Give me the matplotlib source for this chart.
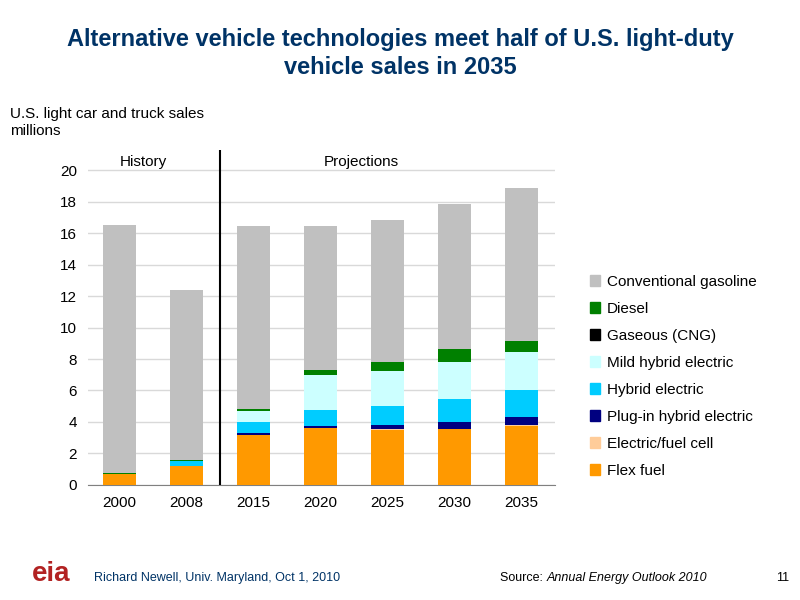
import matplotlib
matplotlib.use("Agg")
import matplotlib.pyplot as plt
from matplotlib.patches import Patch

years = ["2000", "2008", "2015", "2020", "2025", "2030", "2035"]
flex_fuel = [0.68, 1.17, 3.19, 3.62, 3.51, 3.55, 3.77]
electric_fuel_cell = [0.0, 0.0, 0.01, 0.01, 0.01, 0.02, 0.02]
plugin_hybrid = [0.0, 0.04, 0.10, 0.08, 0.26, 0.43, 0.55]
hybrid = [0.0, 0.32, 0.70, 1.02, 1.21, 1.49, 1.68]
mild_hybrid = [0.0, 0.0, 0.68, 2.23, 2.26, 2.34, 2.45]
gaseous = [0.0, 0.0, 0.01, 0.01, 0.01, 0.01, 0.01]
diesel = [0.05, 0.02, 0.15, 0.32, 0.57, 0.79, 0.66]
conventional = [15.77, 10.85, 11.60, 9.15, 9.04, 9.26, 9.76]

series = [
    ("Flex fuel", flex_fuel, "#FF9900"),
    ("Electric/fuel cell", electric_fuel_cell, "#FFCC99"),
    ("Plug-in hybrid electric", plugin_hybrid, "#000080"),
    ("Hybrid electric", hybrid, "#00CCFF"),
    ("Mild hybrid electric", mild_hybrid, "#CCFFFF"),
    ("Gaseous (CNG)", gaseous, "#000000"),
    ("Diesel", diesel, "#008000"),
    ("Conventional gasoline", conventional, "#C0C0C0"),
]

plt.rcParams['font.family'] = ['Liberation Sans', 'DejaVu Sans']
fig = plt.figure(figsize=(8, 6), dpi=100)
ax = fig.add_axes([0.11, 0.192, 0.584, 0.558])

x = list(range(len(years)))
bottom = [0.0] * len(years)
for name, vals, col in series:
    ax.bar(x, vals, 0.5, bottom=bottom, color=col, zorder=3)
    bottom = [b + v for b, v in zip(bottom, vals)]

ax.set_ylim(0, 21.3)
ax.set_xlim(-0.47, 6.5)
ax.set_yticks(range(0, 21, 2))
ax.set_xticks(x)
ax.set_xticklabels(years)
ax.tick_params(labelsize=11, length=0, pad=8)
ax.grid(axis='y', color='#D9D9D9', lw=1, zorder=0)
for s in ['top', 'right', 'left']:
    ax.spines[s].set_visible(False)
ax.spines['bottom'].set_color('#808080')
ax.axvline(1.5, color='black', lw=1.5, zorder=4)
ax.text(0.35, 20.3, "History", ha='center', fontsize=11)
ax.text(3.6, 20.3, "Projections", ha='center', fontsize=11)

handles = [Patch(color=c, label=n) for n, v, c in series[::-1]]
fig.legend(handles=handles, loc='upper left', bbox_to_anchor=(0.72, 0.565),
           frameon=False, fontsize=11, handlelength=0.7, handleheight=0.7,
           labelspacing=0.85, handletextpad=0.4)

fig.text(0.5, 0.953, "Alternative vehicle technologies meet half of U.S. light-duty\nvehicle sales in 2035",
         ha='center', va='top', fontsize=17, fontweight='bold', color='#003366', linespacing=1.25)
fig.text(0.012, 0.822, "U.S. light car and truck sales\nmillions", fontsize=11, va='top', linespacing=1.3)
fig.text(0.04, 0.032, "eia", fontsize=20, fontweight='bold', color='#B22222')
fig.text(0.117, 0.032, "Richard Newell, Univ. Maryland, Oct 1, 2010", fontsize=9, color='#003366')
fig.text(0.625, 0.032, "Source: ", fontsize=9)
fig.text(0.683, 0.032, "Annual Energy Outlook 2010", fontsize=9, style='italic')
fig.text(0.97, 0.032, "11", fontsize=9)
fig.savefig("out.png")
